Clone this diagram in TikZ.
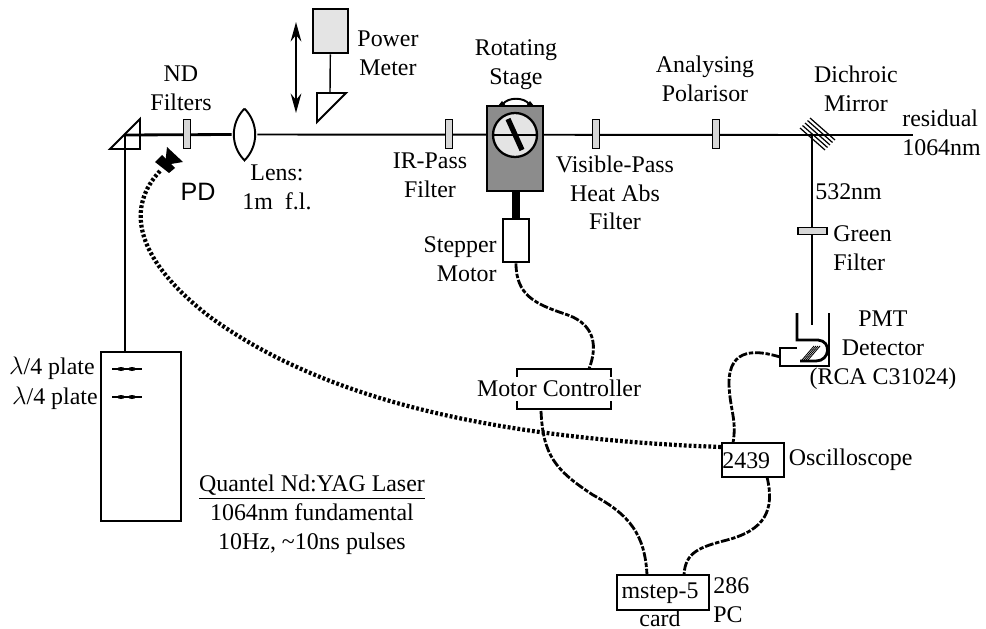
\documentclass[tikz,border=0pt]{standalone}
\usepackage{fontspec}
\setmainfont{Liberation Serif}
\newfontfamily\pdfont{Liberation Sans}
\usepackage{tikz}
\usetikzlibrary{
  arrows.meta,
  positioning,
  calc
}
\definecolor{stippleGray}{RGB}{140, 140, 140}
\definecolor{stippleLight}{RGB}{215, 215, 215}
\definecolor{stipplePale}{RGB}{228, 228, 228}

\begin{document}
\begin{tikzpicture}[
    x=0.2mm, y=-0.2mm,
    font=\fontsize{13.6}{16.4}\selectfont,
    label/.style={inner sep=0pt, align=center},
    box/.style={rectangle, draw, inner sep=0pt, line width=1.2pt, align=center},
    optic/.style={rectangle, draw, inner sep=0pt, fill=stippleLight, line width=0.8pt, minimum width=1.5mm, minimum height=5.8mm},
    beam/.style={draw, line width=1.1pt},
    thickbeam/.style={draw, line width=1.6pt},
    cable/.style={draw, line width=1.6pt, dash pattern=on 5pt off 1pt on 2.5pt off 1pt},
    dotcable/.style={draw, line width=2.4pt, dash pattern=on 1.6pt off 1.2pt}
]

    \useasboundingbox (0,0) rectangle (986,629);

    % named points on the optical axis
    \coordinate (prism) at (125,135);
    \coordinate (residualEnd) at (913,135);
    \coordinate (pmtEntry) at (812,325);
    \node[rectangle, minimum width=5mm, minimum height=10.2mm, inner sep=0pt] (lens) at (244.5,134.5) {};
    \node[inner sep=0pt, minimum size=1pt] (dichroic) at (812,135) {};

    \node[box, line width=1.6pt, fill=white, minimum width=16mm, minimum height=33.8mm] (laser) at (141,436.5) {};

    \draw[thickbeam] (prism) -- (lens.west);
    \draw[beam] (lens.east) -- (dichroic.center);
    \draw[thickbeam] (dichroic.center) -- (residualEnd);
    \draw[beam] (prism) -- (laser.north -| prism);
    \draw[beam] (dichroic.center) -- (pmtEntry);

    % prism and lens
    \draw[line width=1.1pt, line join=miter] (110,149) -- (140,119) -- (140,149) -- cycle;
    \draw[line width=1.1pt, fill=white] (lens.north) to[bend left=45] (lens.south) to[bend left=45] (lens.north);

    \node[optic] (ndFilter) at (187,134) {};
    \node[optic] (irFilter) at (449,134) {};
    \node[optic] (visFilter) at (596,134) {};
    \node[optic] (polarisor) at (716,134) {};
    \node[optic, minimum width=5.8mm, minimum height=1.4mm] (greenFilter) at (812.5,231) {};

    \foreach \s in {-5,-2.5,0,2.5,5}
        \draw[line width=0.7pt] ($(802,120)+(\s,-\s)+(3,3)$) -- ($(833,148)+(\s,-\s)+(-3,-3)$);

    % power meter
    \node[box, line width=1.6pt, fill=stipplePale, minimum width=7mm, minimum height=8.8mm] (power) at (330.5,31) {};
    \coordinate (powerPrism) at (330,93);
    \draw[line width=1.1pt] (317,93) -- (346,93) -- (317,122) -- cycle;
    \draw[line width=0.8pt] (power) -- (powerPrism);
    \coordinate (moveTop) at (296,22);
    \coordinate (moveBottom) at (296,113);
    \draw[{Stealth[length=11pt,width=6pt]}-{Stealth[length=11pt,width=6pt]}, line width=1.6pt] (moveTop) -- (moveBottom);

    % rotating stage
    \draw[line width=1.1pt] (503,104) .. controls (508,97) and (524,97) .. (529,104);
    \fill (498,106) -- (502,101) -- (506,106) -- cycle (526,106) -- (530,101) -- (534,106) -- cycle;
    \node[box, line width=1.4pt, fill=stippleGray, minimum width=11.2mm, minimum height=17mm] (stage) at (515,148.5) {};
    \node[circle, draw, line width=1.3pt, fill=stipplePale, minimum size=8.8mm, inner sep=0pt] (dial) at (515,135) {};
    \coordinate (barTop) at (508,119);
    \coordinate (barBottom) at (522,150);
    \draw[line width=3pt] (barTop) -- (barBottom);
    \draw[beam] (dial.west) -- (dial.east);

    \node[box, fill=white, line width=1.5pt, minimum width=5.2mm, minimum height=8.6mm] (stepper) at (516,240.5) {};
    \draw[line width=4.8pt] (stage.south -| stepper) -- (stepper.north);

    % PMT housing
    \coordinate (pmtWallL) at (797,313);
    \coordinate (pmtWallR) at (829,313);
    \draw[line width=1.6pt] (pmtWallL) -- (797,340) -- (818,340) .. controls (832,341) and (830,361) .. (816,361) -- (800,361);
    \draw[line width=1.6pt] (pmtWallR) -- (829,366) -- (780,366) -- (780,348) -- (797,348);
    \foreach \s in {0,2,4,6}
        \draw[line width=0.5pt] (802+\s,360) -- (814+\s,346);
    \coordinate (pmtPort) at (780,357);

    % electronics
    \node[rectangle, inner sep=0pt, minimum width=18.8mm, minimum height=8mm] (controller) at (564,389) {};
    \draw[line width=1.2pt] ($(controller.north west)+(0,8)$) -- (controller.north west) -- (controller.north east) -- ($(controller.north east)+(0,8)$);
    \draw[line width=1.2pt] ($(controller.south west)+(0,-8)$) -- (controller.south west) -- (controller.south east) -- ($(controller.south east)+(0,-8)$);
    \node[label] (controllerText) at (559,388) {Motor Controller};

    \node[box, fill=white, minimum width=12.4mm, minimum height=6.8mm] (scope) at (753,460) {};
    \node[label, anchor=west] (scopeText) at (722,461) {2439};
    \node[box, fill=white, minimum width=18.4mm, minimum height=7mm] (mstep) at (663,592.5) {};
    \node[label] (mstepText) at (660,593) {mstep-5};

    % cables
    \draw[cable] (stepper.south) .. controls (516,295) and (535,304) .. (565,314)
        .. controls (590,322) and (600,340) .. (589,369);
    \draw[cable] (541,411) coordinate (controllerOut)
        .. controls (543,455) and (555,470) .. (593,495)
        .. controls (630,515) and (645,535) .. (647,575);
    \draw[cable] (pmtPort) .. controls (760,351) and (728,345) .. (729,385)
        .. controls (730,410) and (737,420) .. (733,443);
    \draw[cable] (767,477) .. controls (775,510) and (765,530) .. (727,540)
        .. controls (700,547) and (685,552) .. (684,575);
    \coordinate (pdOut) at (160,171);
    \draw[dotcable] (pdOut) .. controls (128,205) and (130,255) .. (210,317)
        .. controls (290,375) and (430,437) .. (722,447);

    % PD head
    \fill (155,162) -- (162,155) -- (175,168) -- (169,173) -- cycle;
    \fill (167,147) -- (183,162) -- (165,165) -- cycle;

    % laser waveplates
    \foreach \y/\n in {369/waveA, 397/waveB} {
        \draw[line width=0.9pt] (112,\y) -- (142,\y);
        \fill (121,\y) ellipse (4 and 2) (132,\y) ellipse (4 and 2);
    }

    % labels
    \node[label] (ndLabel) at (181,88) {ND\\Filters};
    \node[label] (powerLabel) at (388,53) {Power\\Meter};
    \node[label, font=\pdfont\fontsize{14.3}{16}\selectfont] (pdLabel) at (198,192) {PD};
    \node[label] (lensLabel) at (277,187) {Lens:\\1m\ \ f.l.};
    \node[label] (irLabel) at (430,175.5) {IR-Pass\\Filter};
    \node[label] (stageLabel) at (516,64.5) {Rotating\\Stage};
    \node[label, align=right, anchor=east] (stepperLabel) at (497,259.5) {Stepper\\Motor};
    \node[label] (visLabel) at (615,193) {Visible-Pass\\Heat Abs\\Filter};
    \node[label] (polLabel) at (705,79) {Analysing\\Polarisor};
    \node[label] (dichroicLabel) at (856,89) {Dichroic\\Mirror};
    \node[label, align=left, anchor=west] (residualLabel) at (902,133) {residual\\1064nm};
    \node[label, anchor=west] (greenLine) at (815,192) {532nm};
    \node[label, align=left, anchor=west] (greenLabel) at (833,248) {Green\\Filter};
    \node[label] (pmtLabel) at (883,350) {PMT\\Detector\\(RCA C31024)};
    \node[label, right=2pt of scope] (oscLabel) {Oscilloscope};
    \node[label] (cardLabel) at (660,618) {card};
    \node[label, align=left, anchor=west] (pcLabel) at (713,600.5) {286\\PC};
    \node[label, anchor=east] (plateLabelA) at (95,368) {$\lambda$/4 plate};
    \node[label, anchor=east] (plateLabelB) at (98,398) {$\lambda$/4 plate};
    \node[label] (quantelLabel) at (312,515) {\underline{Quantel Nd:YAG Laser}\\1064nm fundamental\\10Hz, \textasciitilde10ns pulses};

\end{tikzpicture}
\end{document}
